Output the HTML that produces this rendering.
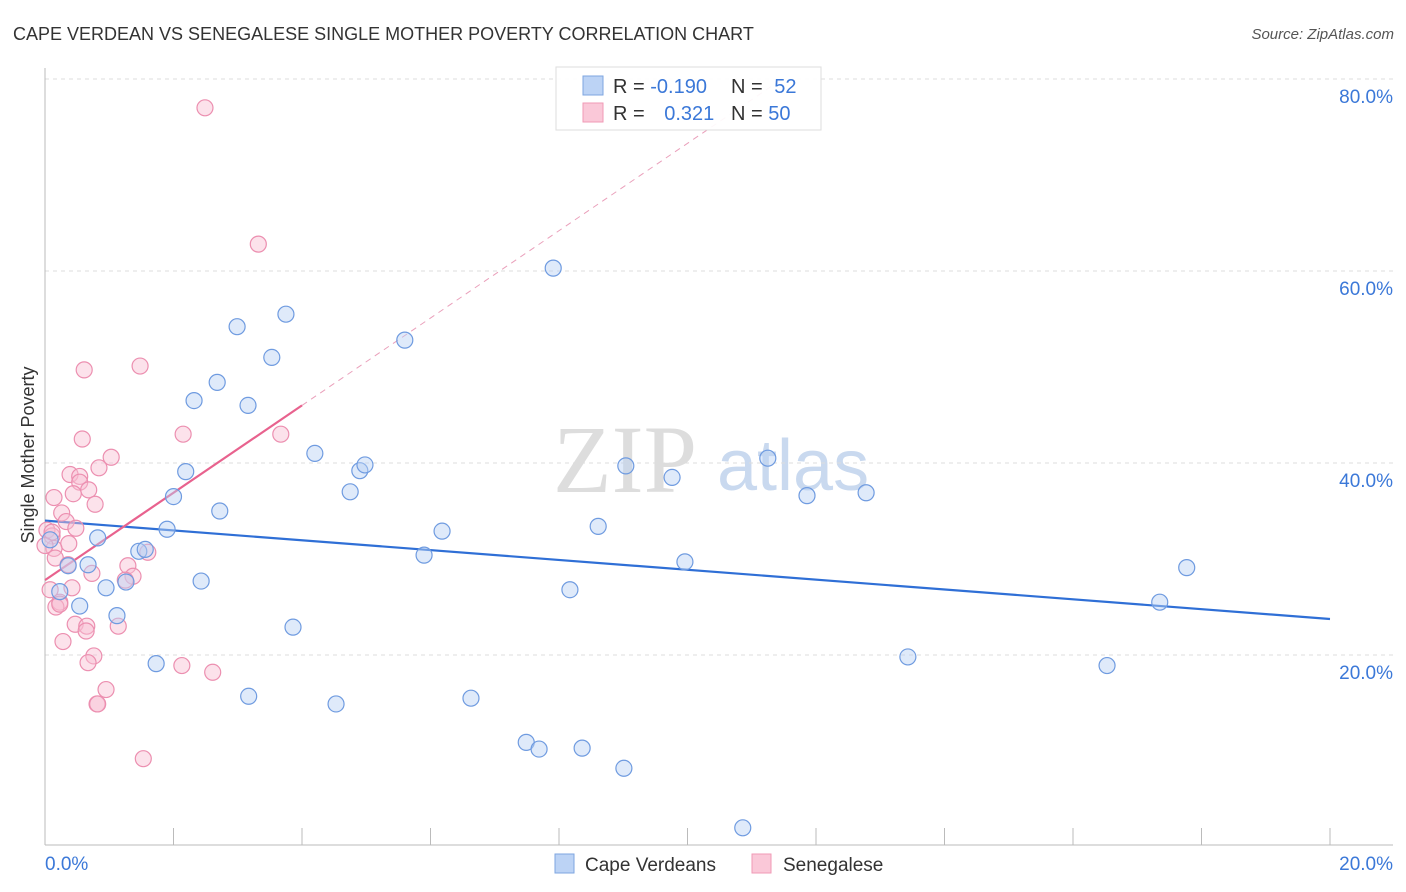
<!DOCTYPE html>
<html><head><meta charset="utf-8">
<style>
body{margin:0;background:#fff;width:1406px;height:892px;overflow:hidden;font-family:"Liberation Sans",sans-serif;}
svg{display:block}
</style></head>
<body>
<svg id="chart" width="1406" height="892" xmlns="http://www.w3.org/2000/svg">
<text x="13" y="40" font-size="18" fill="#333">CAPE VERDEAN VS SENEGALESE SINGLE MOTHER POVERTY CORRELATION CHART</text>
<text x="1394" y="39" font-size="15" fill="#555" font-style="italic" text-anchor="end">Source: ZipAtlas.com</text>
<text transform="translate(34,455) rotate(-90)" font-size="18" fill="#333" text-anchor="middle">Single Mother Poverty</text>
<g>
<text x="553" y="492" font-size="96" font-family="Liberation Serif,serif" fill="#ddd">ZIP</text>
<text x="717" y="490" font-size="72" fill="#c9d9ef">atlas</text>
</g>
<g id="grid"></g>
<g id="axes"></g>
<g id="lines"></g>
<g id="points"></g>
<g>
<rect x="556" y="67" width="265" height="63" fill="#fff" fill-opacity="0.92" stroke="#ddd"/>
<rect x="583" y="76" width="20" height="19" fill="#bcd3f5" stroke="#7ea6e0"/>
<rect x="583" y="103" width="20" height="19" fill="#fac8d8" stroke="#f09ab6"/>
<text x="613" y="93" font-size="20" fill="#333">R = <tspan fill="#3b78d8">-0.190</tspan></text>
<text x="731" y="93" font-size="20" fill="#333">N = <tspan fill="#3b78d8" dx="6">52</tspan></text>
<text x="613" y="120" font-size="20" fill="#333">R = <tspan fill="#3b78d8" dx="14">0.321</tspan></text>
<text x="731" y="120" font-size="20" fill="#333">N = <tspan fill="#3b78d8">50</tspan></text>
</g>
<g>
<rect x="555" y="854" width="19" height="19" fill="#bcd3f5" stroke="#7ea6e0"/>
<text x="585" y="871" font-size="19" fill="#333">Cape Verdeans</text>
<rect x="752" y="854" width="19" height="19" fill="#fac8d8" stroke="#f09ab6"/>
<text x="783" y="871" font-size="19" fill="#333">Senegalese</text>
</g>
</svg>
<script>
const blueX=[0.08,0.23,0.36,0.54,0.82,0.67,0.95,1.12,1.26,1.46,1.56,1.73,1.90,2.00,2.19,2.32,2.43,2.68,2.72,2.99,3.16,3.17,3.53,3.75,3.86,4.20,4.53,4.75,4.90,4.98,5.60,5.90,6.18,6.63,7.49,7.69,7.91,8.17,8.36,8.61,9.01,9.04,9.76,9.96,10.86,11.25,11.86,12.78,13.43,16.53,17.35,17.77];
const blueY=[32.0,26.6,29.3,25.1,32.2,29.4,27.0,24.1,27.6,30.8,31.0,19.1,33.1,36.5,39.1,46.5,27.7,48.4,35.0,54.2,46.0,15.7,51.0,55.5,22.9,41.0,14.9,37.0,39.2,39.8,52.8,30.4,32.9,15.5,10.9,10.2,60.3,26.8,10.3,33.4,8.2,39.7,38.5,29.7,2.0,40.5,36.6,36.9,19.8,18.9,25.5,29.1];
const pinkX=[2.49,3.32,1.48,0.61,2.15,3.67,0.58,1.03,0.84,0.39,0.54,0.54,0.68,0.44,0.14,0.78,0.26,0.33,0.48,0.03,0.11,0.37,0.14,1.60,0.16,0.36,0.73,1.29,1.37,1.25,0.42,0.23,0.17,0.47,0.65,1.14,0.64,0.28,0.76,0.67,2.13,2.61,0.95,0.81,0.82,1.53,0.11,0.23,0.08,0.0];
const pinkY=[77.0,62.8,50.1,49.7,43.0,43.0,42.5,40.6,39.5,38.8,38.6,38.0,37.2,36.8,36.4,35.7,34.8,33.9,33.2,33.0,32.4,31.6,31.1,30.7,30.1,29.4,28.5,29.3,28.2,27.8,27.0,25.5,25.0,23.2,23.0,23.0,22.5,21.4,19.9,19.2,18.9,18.2,16.4,14.9,14.9,9.2,32.8,25.3,26.8,31.4];
const blueTrend=[34.0,23.75];
const pinkTrend=[27.8,46.0];
const yTicks=[20,40,60,80];
const yTickLabels=["20.0%","40.0%","60.0%","80.0%"];
const xTickLabels=["0.0%","20.0%"];

const NS="http://www.w3.org/2000/svg";
const X0=45,X1=1330,Y0=847,PXY=9.6;
const sx=v=>X0+(v/20)*(X1-X0);
const sy=v=>Y0-v*PXY;
function mk(t,a,p){const e=document.createElementNS(NS,t);for(const k in a)e.setAttribute(k,a[k]);p.appendChild(e);return e;}
const grid=document.getElementById('grid'),axes=document.getElementById('axes'),lines=document.getElementById('lines'),pts=document.getElementById('points');
yTicks.forEach((t,i)=>{
  const l=mk('line',{x1:X0,x2:1393,y1:sy(t),y2:sy(t),stroke:'#ddd','stroke-dasharray':'4,4'},grid);
  
  
  const tx=mk('text',{x:1393,y:sy(t)+24,'font-size':19,fill:'#3b78d8','text-anchor':'end'},axes);
  tx.textContent=yTickLabels[i];
  
  
});
const ax=mk('line',{x1:X0,x2:1393,y1:845,y2:845,stroke:'#bbb'},axes);


const ay=mk('line',{x1:X0,x2:X0,y1:68,y2:845,stroke:'#bbb'},axes);


for(let i=0;i<=10;i++){
  const t=mk('line',{x1:sx(i*2),x2:sx(i*2),y1:828,y2:845,stroke:'#bbb'},axes);
  
  
}
const xl0=mk('text',{x:X0,y:870,'font-size':19,fill:'#3b78d8'},axes);xl0.textContent=xTickLabels[0];


const xl1=mk('text',{x:1393,y:870,'font-size':19,fill:'#3b78d8','text-anchor':'end'},axes);xl1.textContent=xTickLabels[1];



function dots(xs,ys,fill,stroke,name){
  xs.forEach((x,i)=>{
    const c=mk('circle',{cx:sx(x),cy:sy(ys[i]),r:8,fill:fill,'fill-opacity':0.45,stroke:stroke,'stroke-width':1.2},pts);
    
    
  });
}
dots(pinkX,pinkY,'#f9bfd2','#ec8fb0','senegalese-point');
dots(blueX,blueY,'#b8d0f3','#6f9be0','cape-verdean-point');

const bl=mk('line',{x1:sx(0),y1:sy(blueTrend[0]),x2:sx(20),y2:sy(blueTrend[1]),stroke:'#2f6fd6','stroke-width':2.2},lines);


const slope=(pinkTrend[1]-pinkTrend[0])/4;
const xEnd=(80-pinkTrend[0])/slope;
const pd=mk('line',{x1:sx(4),y1:sy(pinkTrend[1]),x2:sx(xEnd),y2:sy(80),stroke:'#eaa0bb','stroke-width':1,'stroke-dasharray':'6,5'},lines);


const pl=mk('line',{x1:sx(0),y1:sy(pinkTrend[0]),x2:sx(4),y2:sy(pinkTrend[1]),stroke:'#e8628e','stroke-width':2.2},lines);


</script>
</body></html>
